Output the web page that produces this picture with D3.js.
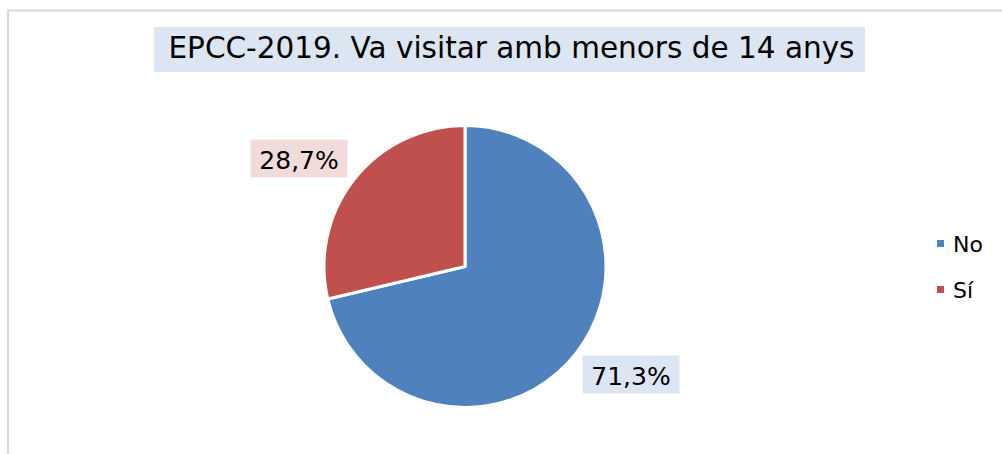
<!DOCTYPE html>
<html>
<head>
<meta charset="utf-8">
<script src="https://cdn.jsdelivr.net/npm/d3@7"></script>
<style>
  body { margin: 0; background: #fff; }
  svg { font-family: "DejaVu Sans", Verdana, sans-serif; }
</style>
</head>
<body>
<div id="chart"></div>
<script>
// data
var titleText = "EPCC-2019. Va visitar amb menors de 14 anys";
var categories = ["No", "Sí"];
var values = [71.3, 28.7];
var colors = ["#4F81BD", "#C0504D"];
var labelFills = ["#DCE6F2", "#F2DCDB"];

var width = 1002, height = 454;
var cx = 465, cy = 266.5, radius = 141;
var labelRadius = 198;
var labelShift = -5.3 * Math.PI / 180;

var svg = d3.select("#chart").append("svg")
    .attr("width", width)
    .attr("height", height);

// chart area border (only left and top visible)
svg.append("rect")
    .attr("x", 8)
    .attr("y", 10.5)
    .attr("width", width + 20)
    .attr("height", height + 20)
    .attr("fill", "none")
    .attr("stroke", "#d9d9d9")
    .attr("stroke-width", 2);

// title
var title = svg.append("g");
title.append("rect")
    .attr("x", 154).attr("y", 27)
    .attr("width", 711).attr("height", 45)
    .attr("fill", "#DCE6F2");
title.append("text")
    .attr("x", 511.5)
    .attr("y", 57.5)
    .attr("text-anchor", "middle")
    .attr("font-size", 29.5)
    .attr("fill", "#000")
    .text(titleText);

var pie = d3.pie().sort(null).value(function(d) { return d; });
var arcs = pie(values);

var arc = d3.arc().innerRadius(0).outerRadius(radius);

var g = svg.append("g")
    .attr("transform", "translate(" + cx + "," + cy + ")");

g.selectAll("path")
    .data(arcs)
  .enter().append("path")
    .attr("d", arc)
    .attr("fill", function(d, i) { return colors[i]; })
    .attr("stroke", "#fff")
    .attr("stroke-width", 3)
    .attr("stroke-linejoin", "round");

// data labels
var labelArc = d3.arc().innerRadius(labelRadius).outerRadius(labelRadius);

var labels = g.selectAll(".lbl")
    .data(arcs)
  .enter().append("g")
    .attr("class", "lbl")
    .attr("transform", function(d) {
      var c = labelArc.centroid({startAngle: d.startAngle + labelShift, endAngle: d.endAngle + labelShift});
      return "translate(" + c[0] + "," + c[1] + ")";
    });

labels.append("rect")
    .attr("x", -48.5)
    .attr("y", -19)
    .attr("width", 97)
    .attr("height", 38)
    .attr("fill", function(d, i) { return labelFills[i]; });

labels.append("text")
    .attr("text-anchor", "middle")
    .attr("dy", "0.42em")
    .attr("font-size", 25)
    .attr("fill", "#000")
    .text(function(d) { return d3.format(".1f")(d.data).replace(".", ",") + "%"; });

// legend
var legend = svg.selectAll(".leg")
    .data(categories)
  .enter().append("g")
    .attr("class", "leg")
    .attr("transform", function(d, i) { return "translate(937," + (240 + i * 46) + ")"; });

legend.append("rect")
    .attr("width", 7)
    .attr("height", 7)
    .attr("fill", function(d, i) { return colors[i]; });

legend.append("text")
    .attr("x", 16)
    .attr("y", 3.5)
    .attr("dy", "0.38em")
    .attr("font-size", 22)
    .attr("fill", "#000")
    .text(function(d) { return d; });
</script>
</body>
</html>
